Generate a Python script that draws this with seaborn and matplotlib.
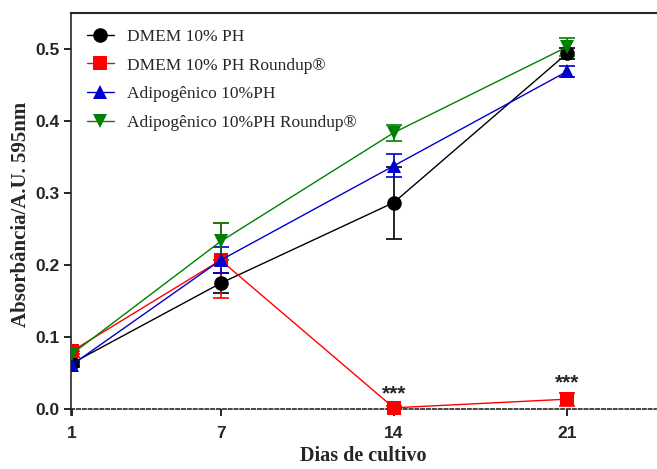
import matplotlib
matplotlib.use("Agg")
import matplotlib.pyplot as plt
import seaborn as sns
import pandas as pd
import numpy as np

days = [1, 7, 14, 21]
series_names = ["DMEM 10% PH", "DMEM 10% PH Roundup®", "Adipogênico 10%PH", "Adipogênico 10%PH Roundup®"]
dmem_mean = [0.064, 0.175, 0.287, 0.494]
dmem_err = [0.004, 0.014, 0.050, 0.008]
dmem_rd_mean = [0.081, 0.207, 0.002, 0.014]
dmem_rd_err = [0.004, 0.052, 0.002, 0.009]
adipo_mean = [0.062, 0.207, 0.338, 0.469]
adipo_err = [0.004, 0.018, 0.016, 0.008]
adipo_rd_mean = [0.077, 0.233, 0.384, 0.503]
adipo_rd_err = [0.004, 0.026, 0.011, 0.013]
colors = ["#000000", "#FF0000", "#0000CD", "#008000"]
markers = ["o", "s", "^", "v"]
sig_days = [14, 21]
sig_y = [0.022, 0.036]
sig_text = "***"

means = [dmem_mean, dmem_rd_mean, adipo_mean, adipo_rd_mean]
errs = [dmem_err, dmem_rd_err, adipo_err, adipo_rd_err]

rows = []
for name, m in zip(series_names, means):
    for d, v in zip(days, m):
        rows.append({"Dias": d, "Abs": v, "Grupo": name})
df = pd.DataFrame(rows)

sns.set_style("ticks")
plt.rcParams["font.family"] = ["Liberation Serif", "DejaVu Serif"]

fig = plt.figure(figsize=(6.57, 4.69), dpi=100)
ax = fig.add_axes([0.108, 0.1151, 0.8905, 0.8569])

for name, m, e, c, mk in zip(series_names, means, errs, colors, markers):
    ax.errorbar(days, m, yerr=e, fmt="none", ecolor=c, elinewidth=1.2, capsize=6, capthick=1.2, zorder=2)

sns.lineplot(data=df, x="Dias", y="Abs", hue="Grupo", style="Grupo",
             hue_order=series_names, style_order=series_names,
             palette=dict(zip(series_names, colors)),
             markers=dict(zip(series_names, markers)), dashes=False,
             markersize=10.5, markeredgewidth=0, linewidth=1.0, ax=ax, zorder=3)

for d, y in zip(sig_days, sig_y):
    ax.text(d, y, sig_text, ha="center", va="center", fontsize=15, fontweight="bold",
            family=["Liberation Sans", "DejaVu Sans"])

ax.set_xlim(0.95, 24.6)
ax.set_ylim(-0.008, 0.55)
ax.set_xticks(days)
ax.set_yticks([0.0, 0.1, 0.2, 0.3, 0.4, 0.5])
ax.set_yticklabels(["0.0", "0.1", "0.2", "0.3", "0.4", "0.5"])
ax.spines["bottom"].set_position(("data", 0))
ax.spines["bottom"].set_linestyle((0, (2, 1.5)))
ax.spines["bottom"].set_linewidth(1.2)
ax.spines["left"].set_linewidth(1.2)
ax.spines["top"].set_linewidth(1.5)
ax.spines["right"].set_visible(False)
ax.tick_params(axis="both", length=5, width=1.2, color="black")
for lab in ax.get_xticklabels() + ax.get_yticklabels():
    lab.set_family(["Liberation Sans Narrow", "Liberation Sans", "DejaVu Sans"])
    lab.set_fontweight("bold")
    lab.set_fontsize(12.5)
ax.tick_params(axis="x", pad=7)

ax.set_xlabel("Dias de cultivo", fontsize=14.5, fontweight="bold", labelpad=4)
ax.set_ylabel("Absorbância/A.U. 595nm", fontsize=15, fontweight="bold", labelpad=3)

handles, labels = ax.get_legend_handles_labels()
ax.legend(handles, labels, loc="upper left", bbox_to_anchor=(0.0, 1.0), frameon=False,
          fontsize=12.5, handlelength=1.6, handletextpad=0.7, labelspacing=0.72,
          borderaxespad=0.5)

fig.savefig("out.png", dpi=100)
